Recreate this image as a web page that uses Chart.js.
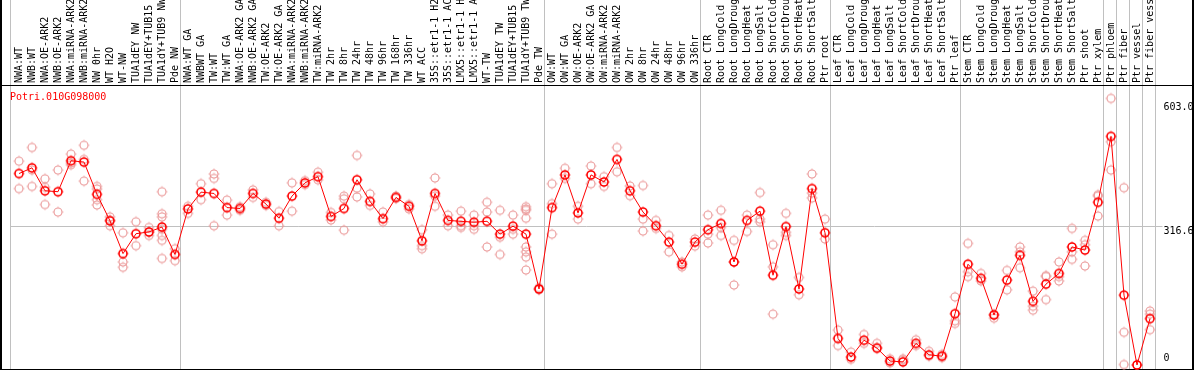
<!DOCTYPE html>
<html>
<head>
<meta charset="utf-8">
<script src="https://cdn.jsdelivr.net/npm/chart.js@4.4.1/dist/chart.umd.min.js"></script>
<style>
  html, body { margin: 0; padding: 0; background: #fff; }
  canvas { display: block; }
</style>
</head>
<body>
<canvas id="expression-chart" width="1194" height="370"></canvas>
<script>
// Gene shown in the plot
const geneId = 'Potri.010G098000';

// Sample names, left to right
const labels = [
  'NWA:WT', 'NWB:WT', 'NWA:OE-ARK2', 'NWB:OE-ARK2', 'NWA:miRNA-ARK2', 'NWB:miRNA-ARK2', 'NW 0hr',
  'WT H2O', 'WT-NW', 'TUA1dEY NW', 'TUA1dEY+TUB15 NW', 'TUA1dY+TUB9 NW', 'Pde NW',
  'NWA:WT GA', 'NWBWT GA', 'TW:WT', 'TW:WT GA', 'NWA:OE-ARK2 GA', 'NWB:OE-ARK2 GA', 'TW:OE-ARK2',
  'TW:OE-ARK2 GA', 'NWA:miRNA-ARK2', 'NWB:miRNA-ARK2', 'TW:miRNA-ARK2', 'TW 2hr', 'TW 8hr', 'TW 24hr',
  'TW 48hr', 'TW 96hr', 'TW 168hr', 'TW 336hr', 'WT ACC', '35S::etr1-1 H2O', '35S::etr1-1 ACC',
  'LMX5::etr1-1 H2O', 'LMX5::etr1-1 ACC', 'WT-TW', 'TUA1dEY TW', 'TUA1dEY+TUB15 TW', 'TUA1dY+TUB9 TW', 'Pde TW',
  'OW:WT', 'OW:WT GA', 'OW:OE-ARK2', 'OW:OE-ARK2 GA', 'OW:miRNA-ARK2', 'OW:miRNA-ARK2', 'OW 2hr', 'OW 8hr',
  'OW 24hr', 'OW 48hr', 'OW 96hr', 'OW 336hr',
  'Root CTR', 'Root LongCold', 'Root LongDrought', 'Root LongHeat', 'Root LongSalt', 'Root ShortCold',
  'Root ShortDrought', 'Root ShortHeat', 'Root ShortSalt', 'Ptr root',
  'Leaf CTR', 'Leaf LongCold', 'Leaf LongDrought', 'Leaf LongHeat', 'Leaf LongSalt', 'Leaf ShortCold',
  'Leaf ShortDrought', 'Leaf ShortHeat', 'Leaf ShortSalt', 'Ptr leaf',
  'Stem CTR', 'Stem LongCold', 'Stem LongDrought', 'Stem LongHeat', 'Stem LongSalt', 'Stem ShortCold',
  'Stem ShortDrought', 'Stem ShortHeat', 'Stem ShortSalt', 'Ptr shoot',
  'Ptr xylem', 'Ptr phloem', 'Ptr fiber', 'Ptr vessel', 'Ptr fiber vessel',
];

// Mean expression per sample
const means = [
  433, 446, 394, 392, 462, 459, 386, 326, 252, 297, 301, 312, 250,
  353, 391, 388, 356, 354, 388, 364, 332, 382, 412, 426, 336, 354, 419, 370, 331, 379, 359, 281,
  388, 327, 325, 323, 325, 296, 314, 296, 172,
  356, 430, 344, 430, 414, 465, 394, 346, 315, 278, 228, 278,
  306, 320, 233, 327, 348, 203, 313, 172, 399, 299,
  60, 18, 56, 38, 9, 7, 49, 23, 20, 116,
  228, 196, 113, 192, 248, 144, 183, 207, 267, 260,
  368, 517, 158, 0, 105,
];

// Individual replicate values per sample
const replicates = [
  [461, 399], [492, 441, 404], [421, 402, 363], [441, 346], [477, 457, 453], [497, 465, 416],
  [404, 398, 374, 362], [335, 328, 315], [299, 233, 221], [324, 270], [311, 300, 293],
  [392, 342, 335, 307, 293, 282, 241], [263, 236],
  [359, 343], [410, 374], [432, 422, 315], [373, 339], [358, 350], [396, 379], [368, 361], [347, 315],
  [412, 348], [417, 408], [436, 419], [345, 328], [382, 376, 305], [474, 400, 380], [387, 361],
  [346, 324], [382, 377], [363, 353], [306, 270, 263], [423, 382, 359], [339, 315], [348, 315, 311],
  [339, 315, 307], [368, 346, 267], [350, 289, 250], [339, 307, 296],
  [358, 353, 350, 332, 267, 256, 244, 215], [175, 170],
  [410, 365, 296], [445, 422], [359, 330], [450, 410], [426, 404], [492, 437], [405, 383],
  [406, 330, 303], [327, 309], [293, 256], [233, 222], [285, 269],
  [339, 296, 276], [350, 311, 293], [282, 233, 181], [339, 302], [390, 330, 324], [272, 222, 115],
  [343, 300, 293], [198, 159], [432, 389, 378], [330, 285],
  [79, 44], [29, 13], [69, 49], [49, 40], [14, 5], [14, 11], [57, 44], [31, 20], [24, 17], [154, 100, 94],
  [275, 211, 200], [207, 190], [115, 106], [214, 170], [267, 256, 220], [167, 133, 124], [202, 200, 148],
  [233, 200, 190], [309, 256, 239], [282, 272, 224],
  [385, 382, 337], [603, 505, 441], [401, 74, 1], [0], [122, 115, 80],
];

// Value axis labels and the last sample of each group (a separator follows it)
const yTicks = [0, 316.6, 603.0];
const groupEnds = [12, 40, 52, 62, 72, 83, 84, 85, 86, 87];

const yMax = Math.max(...yTicks);
const HEADER = 85;
const FONT = '10px "DejaVu Sans Mono", monospace';

// small ring with tiny tick marks, like the original plot markers
function makeMarker(color, lineWidth) {
  const c = document.createElement('canvas');
  c.width = 16;
  c.height = 16;
  const g = c.getContext('2d');
  g.strokeStyle = color;
  g.fillStyle = color;
  g.lineWidth = lineWidth;
  g.beginPath();
  g.arc(8, 8, 4, 0, Math.PI * 2);
  g.stroke();
  g.fillRect(7.5, 2.6, 1, 1);
  g.fillRect(7.5, 12.4, 1, 1);
  g.fillRect(2.6, 7.5, 1, 1);
  g.fillRect(12.4, 7.5, 1, 1);
  return c;
}

// Draw the frame, separators, header labels and value labels
const efpFrame = {
  id: 'efpFrame',
  beforeDatasetsDraw(chart) {
    const { ctx, width, height } = chart;
    const xs = chart.scales.x;
    const ys = chart.scales.y;
    ctx.save();

    // grey separators between sample groups
    const seps = [xs.getPixelForValue(0) - 9].concat(groupEnds.map((i) => xs.getPixelForValue(i) + 5));
    ctx.strokeStyle = '#c0c0c0';
    ctx.lineWidth = 1;
    ctx.beginPath();
    seps.forEach((px) => {
      const p = Math.round(px) + 0.5;
      ctx.moveTo(p, 0);
      ctx.lineTo(p, height);
    });
    yTicks.filter((v) => v > 0 && v < yMax).forEach((v) => {
      const py = Math.ceil(ys.getPixelForValue(v)) + 0.5;
      ctx.moveTo(Math.round(seps[0]), py);
      ctx.lineTo(xs.right + 6, py);
    });
    ctx.stroke();

    // black frame
    ctx.fillStyle = '#000';
    ctx.fillRect(0, HEADER, width, 1);
    ctx.fillRect(0, height - 1, width, 1);
    ctx.fillRect(0, 0, 2, height);
    ctx.fillRect(width - 2, 0, 2, height);

    // rotated sample names
    ctx.font = FONT;
    ctx.textAlign = 'left';
    ctx.textBaseline = 'middle';
    labels.forEach((lab, i) => {
      ctx.save();
      ctx.translate(xs.getPixelForValue(i), HEADER - 2);
      ctx.rotate(-Math.PI / 2);
      ctx.fillText(lab, 0, 0);
      ctx.restore();
    });

    // value labels on the right
    yTicks.forEach((v) => {
      const off = v === yMax ? 9 : v === 0 ? -7 : 6;
      ctx.fillText(v === 0 ? '0' : v.toFixed(1), xs.right + 7, ys.getPixelForValue(v) + off);
    });

    // gene name
    ctx.fillStyle = '#ff0000';
    ctx.fillText(geneId, 10, 97);
    ctx.restore();
  },
};

const meanPoints = means.map((v, i) => ({ x: i, y: v }));
const repPoints = replicates.flatMap((vals, i) => vals.map((v) => ({ x: i, y: v })));

new Chart(document.getElementById('expression-chart'), {
  type: 'line',
  data: {
    datasets: [{
      label: 'Mean',
      data: meanPoints,
      borderColor: '#ff0000',
      borderWidth: 1,
      pointStyle: makeMarker('#ff0000', 1.6),
      pointRadius: 4,
      tension: 0,
      clip: false,
      order: 0,
    }, {
      label: 'Replicates',
      data: repPoints,
      showLine: false,
      pointStyle: makeMarker('rgb(234,150,150)', 1.1),
      pointRadius: 4,
      clip: false,
      order: 1,
    }],
  },
  options: {
    responsive: false,
    animation: false,
    devicePixelRatio: 1,
    layout: {
      padding: { left: 12.5, right: 37.5, top: 98.4, bottom: 0.5 },
    },
    scales: {
      x: { type: 'linear', min: -0.5, max: labels.length - 0.5, display: false },
      y: { type: 'linear', min: 0, max: yMax, display: false },
    },
    plugins: {
      legend: { display: false },
      tooltip: { enabled: false },
    },
  },
  plugins: [efpFrame],
});
</script>
</body>
</html>
